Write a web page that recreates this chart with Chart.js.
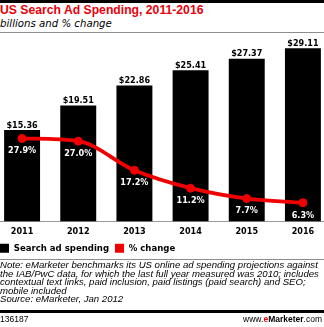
<!DOCTYPE html>
<html>
<head>
<meta charset="utf-8">
<script src="https://cdn.jsdelivr.net/npm/chart.js@4"></script>
<style>
  html, body { margin: 0; padding: 0; background: #fff; overflow: hidden; }
  body { width: 324px; height: 327px; position: relative; }
  .rule-top { position: absolute; left: 0; top: 0; width: 324px; height: 3px; background: #000; }
  .title { position: absolute; left: 0; top: 3px; font: bold 12.2px "Liberation Sans", Arial, sans-serif; color: #e8000b; white-space: nowrap; }
  .subtitle { position: absolute; left: 0; top: 18px; font: italic 10.2px "DejaVu Sans", sans-serif; color: #000; white-space: nowrap; }
  .rule-sub { position: absolute; left: 0; top: 32px; width: 324px; height: 1px; background: #8c8c8c; }
  .chart-box { position: absolute; left: -6px; top: 34px; width: 337px; height: 229px; }
  .rule-note { position: absolute; left: 0; top: 259px; width: 324px; height: 1px; background: #8c8c8c; }
  .note { position: absolute; left: 0; top: 261px; font: italic 9.6px "Liberation Sans", Arial, sans-serif; line-height: 8.5px; color: #000; white-space: nowrap; }
  .rule-foot { position: absolute; left: 0; top: 310px; width: 324px; height: 3px; background: #000; }
  .foot-id { position: absolute; left: 0; top: 314px; font: 8.5px "Liberation Sans", Arial, sans-serif; color: #000; }
  .foot-site { position: absolute; right: 2px; top: 314px; font: 8.5px "Liberation Sans", Arial, sans-serif; color: #000; }
  .foot-site b { font-weight: bold; }
  .foot-site .e { color: #e8000b; }
</style>
</head>
<body>
<div class="rule-top"></div>
<div class="title">US Search Ad Spending, 2011-2016</div>
<div class="subtitle">billions and % change</div>
<div class="rule-sub"></div>
<div class="chart-box"><canvas id="adChart"></canvas></div>
<div class="rule-note"></div>
<div class="note">Note: eMarketer benchmarks its US online ad spending projections against<br>the IAB/PwC data, for which the last full year measured was 2010; includes<br>contextual text links, paid inclusion, paid listings (paid search) and SEO;<br>mobile included<br>Source: eMarketer, Jan 2012</div>
<div class="rule-foot"></div>
<div class="foot-id">136187</div>
<div class="foot-site">www.<b class="e">e</b><b>Marketer</b>.com</div>

<script>
const years = ['2011', '2012', '2013', '2014', '2015', '2016'];
const spending = [15.36, 19.51, 22.86, 25.41, 27.37, 29.11]; // billions
const pctChange = [27.9, 27.0, 17.2, 11.2, 7.7, 6.3];
const seriesNames = ['Search ad spending', '% change'];

const RED = '#f00000';
const CONDENSED = '"DejaVu Sans Condensed", "DejaVu Sans", sans-serif';
const LABEL_FONT = 'bold 9px ' + CONDENSED;

/**
 * Writes the value labels: dollars above each bar, percent under each point.
 */
const valueLabels = {
  id: 'valueLabels',
  afterDatasetsDraw(chart) {
    const ctx = chart.ctx;
    ctx.save();
    ctx.font = LABEL_FONT;
    ctx.textAlign = 'center';
    ctx.textBaseline = 'alphabetic';

    chart.getDatasetMeta(0).data.forEach((bar, i) => {
      ctx.fillStyle = '#000';
      ctx.fillText('$' + spending[i].toFixed(2), bar.x, bar.y - 2.5);
    });

    chart.getDatasetMeta(1).data.forEach((pt, i) => {
      ctx.fillStyle = '#fff';
      ctx.fillText(pctChange[i].toFixed(1) + '%', pt.x, pt.y + 14.8);
    });
    ctx.restore();
  }
};

function init() {
  const ctx = document.getElementById('adChart').getContext('2d');
  new Chart(ctx, {
    type: 'bar',
    data: {
      labels: years,
      datasets: [
        {
          label: seriesNames[0],
          data: spending,
          backgroundColor: '#000',
          barPercentage: 0.64,
          categoryPercentage: 1,
          yAxisID: 'y',
          order: 2
        },
        {
          type: 'line',
          label: seriesNames[1],
          data: pctChange,
          borderColor: RED,
          backgroundColor: RED,
          borderWidth: 3.8,
          pointRadius: 4,
          pointBorderWidth: 1,
          pointBackgroundColor: RED,
          pointBorderColor: RED,
          cubicInterpolationMode: 'monotone',
          yAxisID: 'y2',
          order: 1
        }
      ]
    },
    options: {
      responsive: true,
      maintainAspectRatio: false,
      animation: false,
      layout: { autoPadding: false, padding: { top: 9, left: 0, right: 0, bottom: 0 } },
      plugins: {
        tooltip: { enabled: false },
        legend: {
          position: 'bottom',
          align: 'start',
          labels: {
            color: '#000',
            font: { family: CONDENSED, size: 9.5, weight: 'bold' },
            boxWidth: 9,
            boxHeight: 9,
            padding: 6,
            generateLabels: () => seriesNames.map((name, i) => ({
              text: name,
              fillStyle: i === 0 ? '#000' : RED,
              strokeStyle: i === 0 ? '#000' : RED,
              lineWidth: 0,
              datasetIndex: i
            }))
          }
        }
      },
      scales: {
        x: {
          grid: { display: false, drawTicks: false },
          border: { display: true, color: '#999', width: 1 },
          ticks: {
            color: '#000',
            padding: 5.5,
            font: { family: CONDENSED, size: 9, weight: 'bold', lineHeight: 1 }
          },
          // keep the year row tight so the legend sits close under it
          afterFit(scale) {
            scale.height = 16;
          }
        },
        y: { display: false, min: 0, max: 30 },
        y2: { display: false, min: 0, max: 60 }
      }
    },
    plugins: [valueLabels]
  });
}

document.addEventListener('DOMContentLoaded', init);
</script>
</body>
</html>
